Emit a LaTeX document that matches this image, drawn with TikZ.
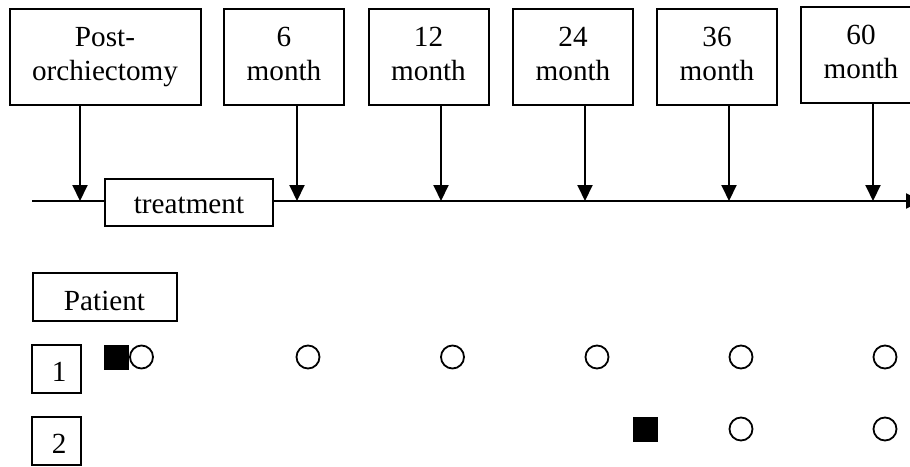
\documentclass[tikz,border=0pt]{standalone}
\usepackage{fontspec}
\setmainfont{Liberation Serif}
\usetikzlibrary{arrows.meta}
\begin{document}
\begin{tikzpicture}[x=1pt,y=-1pt,
  every node/.style={font=\fontsize{29.2}{34.5}\selectfont, inner sep=0pt},
  box/.style={draw, line width=2pt, fill=white},
  tbox/.style={box, align=center, minimum width=120pt, minimum height=96pt},
  arr/.style={line width=2pt, -{Triangle[length=16pt,width=15pt]}},
  circ/.style={draw, circle, line width=1.8pt, minimum size=23pt},
  sq/.style={fill=black, minimum width=25pt, minimum height=25pt}]
\useasboundingbox (0,0) rectangle (910,466);

% time boxes
\node[box, align=center, minimum width=191pt, minimum height=96pt] (post) at (105,57) {Post-\\orchiectomy\vphantom{y}};
\node[tbox] (m6)  at (284,57)   {6\\month\vphantom{y}};
\node[tbox] (m12) at (428.5,57) {12\\month\vphantom{y}};
\node[tbox] (m24) at (573,57)   {24\\month\vphantom{y}};
\node[tbox] (m36) at (717,57)   {36\\month\vphantom{y}};
\node[tbox] (m60) at (861,55)   {60\\month\vphantom{y}};

% timeline
\coordinate (tlA) at (32,201);
\coordinate (tlB) at (922,201);
\draw[arr] (tlA) -- (tlB);

\coordinate (p0)  at (80,201);
\coordinate (p6)  at (297,201);
\coordinate (p12) at (441,201);
\coordinate (p24) at (585,201);
\coordinate (p36) at (729,201);
\coordinate (p60) at (873,201);

\draw[arr] (post.south -| p0) -- (p0);
\draw[arr] (m6.south -| p6) -- (p6);
\draw[arr] (m12.south -| p12) -- (p12);
\draw[arr] (m24.south -| p24) -- (p24);
\draw[arr] (m36.south -| p36) -- (p36);
\draw[arr] (m60.south -| p60) -- (p60);

\node[box, minimum width=168pt, minimum height=47pt, text height=22.6pt, text depth=0pt] (treat) at (189,202) {treatment};

% patients
\node[box, minimum width=144pt, minimum height=47.5pt, text height=27.4pt, text depth=0pt] (patient) at (104.5,297) {Patient\hspace{23pt}};
\node[box, minimum width=49pt, minimum height=48pt, text height=25.4pt, text depth=0pt] (pt1) at (56.7,369) {\hspace{5pt}1};
\node[box, minimum width=49pt, minimum height=48pt, text height=25.6pt, text depth=0pt] (pt2) at (56.7,440.5) {\hspace{5pt}2};

% row 1
\node[sq] (s1) at (116.5,357) {};
\node[circ] (c10) at (141.5,357) {};
\node[circ] (c11) at (308,357) {};
\node[circ] (c12) at (452.5,357) {};
\node[circ] (c13) at (597,357) {};
\node[circ] (c14) at (741,357) {};
\node[circ] (c15) at (885,357) {};

% row 2
\node[sq] (s2) at (645,429) {};
\node[circ] (c21) at (741,429) {};
\node[circ] (c22) at (885,429) {};
\end{tikzpicture}
\end{document}
